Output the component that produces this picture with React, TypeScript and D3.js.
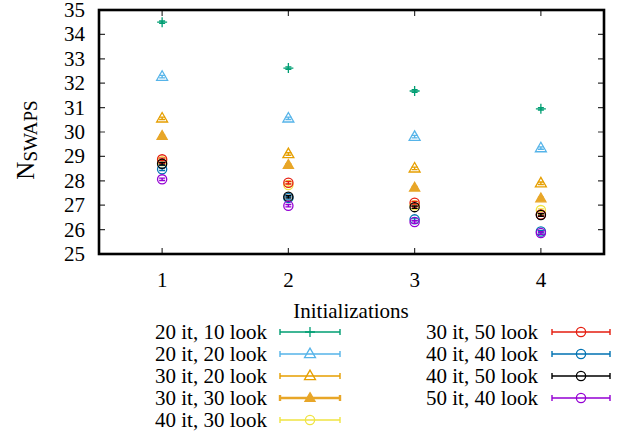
import React from "react";
import * as d3 from "d3";

// Initialization counts along the x axis
const initializations = [1, 2, 3, 4];
const yTicks = [25, 26, 27, 28, 29, 30, 31, 32, 33, 34, 35];

// Mean number of swaps per configuration (iterations, look-ahead)
const swaps20it10look = [34.5, 32.62, 31.68, 30.95];
const swaps20it20look = [32.27, 30.56, 29.81, 29.34];
const swaps30it20look = [30.56, 29.1, 28.51, 27.9];
const swaps30it30look = [29.84, 28.65, 27.72, 27.28];
const swaps40it30look = [28.8, 27.83, 27.0, 26.8];
const swaps30it50look = [28.88, 27.92, 27.1, 26.62];
const swaps40it40look = [28.47, 27.3, 26.42, 25.92];
const swaps40it50look = [28.7, 27.35, 26.92, 26.6];
const swaps50it40look = [28.06, 26.98, 26.31, 25.86];

// Standard error for every point
const swapErrors = [0.05, 0.05, 0.05, 0.05];

type Shape = "plus" | "triangle" | "triangleFilled" | "circle";
interface Series {
  label: string;
  values: number[];
  color: string;
  shape: Shape;
  legendWidth?: number;
}

const seriesList: Series[] = [
  { label: "20 it, 10 look", values: swaps20it10look, color: "#009e73", shape: "plus" },
  { label: "20 it, 20 look", values: swaps20it20look, color: "#56b4e9", shape: "triangle" },
  { label: "30 it, 20 look", values: swaps30it20look, color: "#e69f00", shape: "triangle" },
  { label: "30 it, 30 look", values: swaps30it30look, color: "#e8a628", shape: "triangleFilled", legendWidth: 2.4 },
  { label: "40 it, 30 look", values: swaps40it30look, color: "#f0e442", shape: "circle" },
  { label: "30 it, 50 look", values: swaps30it50look, color: "#e51e10", shape: "circle" },
  { label: "40 it, 40 look", values: swaps40it40look, color: "#0072b2", shape: "circle" },
  { label: "40 it, 50 look", values: swaps40it50look, color: "#000000", shape: "circle" },
  { label: "50 it, 40 look", values: swaps50it40look, color: "#9400d3", shape: "circle" },
];

const W = 624;
const H = 436;
const plot = { left: 99, right: 604, top: 10, bottom: 254 };
const FONT = "Liberation Serif";
const FS = 21;

const x = d3.scaleLinear().domain([0.5, 4.5]).range([plot.left, plot.right]);
const y = d3.scaleLinear().domain([25, 35]).range([plot.bottom, plot.top]);

function Marker({ shape, color, cx, cy }: { shape: Shape; color: string; cx: number; cy: number }) {
  const sw = 1.3;
  if (shape === "plus") {
    return (
      <path
        d={`M${cx - 5},${cy}H${cx + 5}M${cx},${cy - 5}V${cy + 5}`}
        stroke={color}
        strokeWidth={sw}
        fill="none"
      />
    );
  }
  if (shape === "triangle" || shape === "triangleFilled") {
    const tri = d3.symbol(d3.symbolTriangle, shape === "triangleFilled" ? 44 : 52)();
    return (
      <path
        d={tri || ""}
        transform={`translate(${cx},${cy + 0.5})`}
        stroke={color}
        strokeWidth={sw}
        fill={shape === "triangleFilled" ? color : "none"}
      />
    );
  }
  return <circle cx={cx} cy={cy} r={4.6} stroke={color} strokeWidth={sw} fill="none" />;
}

function ErrorBar({ color, cx, yLo, yHi }: { color: string; cx: number; yLo: number; yHi: number }) {
  const cap = 3;
  return (
    <path
      d={`M${cx},${yLo}V${yHi}M${cx - cap},${yLo}H${cx + cap}M${cx - cap},${yHi}H${cx + cap}`}
      stroke={color}
      strokeWidth={1.4}
      fill="none"
    />
  );
}

function Label({
  x: tx,
  y: ty,
  anchor = "middle",
  children,
}: {
  x: number;
  y: number;
  anchor?: "start" | "middle" | "end";
  children: React.ReactNode;
}) {
  return (
    <text x={tx} y={ty} textAnchor={anchor} fontFamily={FONT} fontSize={FS} fill="#000">
      {children}
    </text>
  );
}

export default function App() {
  const leftCol = seriesList.slice(0, 5);
  const rightCol = seriesList.slice(5);
  const rowY = (i: number) => 332 + 22 * i;

  const legendRow = (s: Series, i: number, textRight: number, x0: number, x1: number) => {
    const cy = rowY(i);
    const mid = (x0 + x1) / 2;
    return (
      <g key={s.label}>
        <Label x={textRight} y={cy + 7} anchor="end">
          {s.label}
        </Label>
        <path
          d={`M${x0},${cy}H${x1}M${x0},${cy - 3}V${cy + 3}M${x1},${cy - 3}V${cy + 3}`}
          stroke={s.color}
          strokeWidth={s.legendWidth ?? 1.4}
          fill="none"
        />
        <Marker shape={s.shape} color={s.color} cx={mid} cy={cy} />
      </g>
    );
  };

  return (
    <svg
      width={W}
      height={H}
      style={{ position: "absolute", left: 0, top: 0, background: "#fff" }}
    >
      {/* y ticks (both sides) and labels */}
      {yTicks.map((t) => (
        <g key={`y${t}`}>
          <path
            d={`M${plot.left},${y(t)}H${plot.left + 6}M${plot.right},${y(t)}H${plot.right - 6}`}
            stroke="#333"
            strokeWidth={1.2}
          />
          <Label x={85} y={y(t) + 7} anchor="end">
            {t}
          </Label>
        </g>
      ))}

      {/* x ticks (bottom and mirrored top) and labels */}
      {initializations.map((t) => (
        <g key={`x${t}`}>
          <path
            d={`M${x(t)},${plot.bottom}V${plot.bottom - 6}M${x(t)},${plot.top}V${plot.top + 6}`}
            stroke="#333"
            strokeWidth={1.2}
          />
          <Label x={x(t)} y={287}>
            {t}
          </Label>
        </g>
      ))}

      {/* data points with error bars */}
      {seriesList.map((s) => (
        <g key={s.label}>
          {s.values.map((v, i) => (
            <g key={i}>
              <ErrorBar
                color={s.color}
                cx={x(initializations[i])}
                yLo={y(v - swapErrors[i])}
                yHi={y(v + swapErrors[i])}
              />
              <Marker shape={s.shape} color={s.color} cx={x(initializations[i])} cy={y(v)} />
            </g>
          ))}
        </g>
      ))}

      {/* frame */}
      <rect
        x={plot.left}
        y={plot.top}
        width={plot.right - plot.left}
        height={plot.bottom - plot.top}
        fill="none"
        stroke="#000"
        strokeWidth={2.6}
      />

      {/* axis titles */}
      <Label x={351} y={318}>
        Initializations
      </Label>
      <text
        transform="translate(34,140) rotate(-90)"
        textAnchor="middle"
        fontFamily={FONT}
        fill="#000"
      >
        <tspan fontSize={25}>N</tspan>
        <tspan fontSize={19} dy={3}>
          SWAPS
        </tspan>
      </text>

      {/* legend */}
      {leftCol.map((s, i) => legendRow(s, i, 267, 280, 340))}
      {rightCol.map((s, i) => legendRow(s, i, 538, 552, 610))}
    </svg>
  );
}
